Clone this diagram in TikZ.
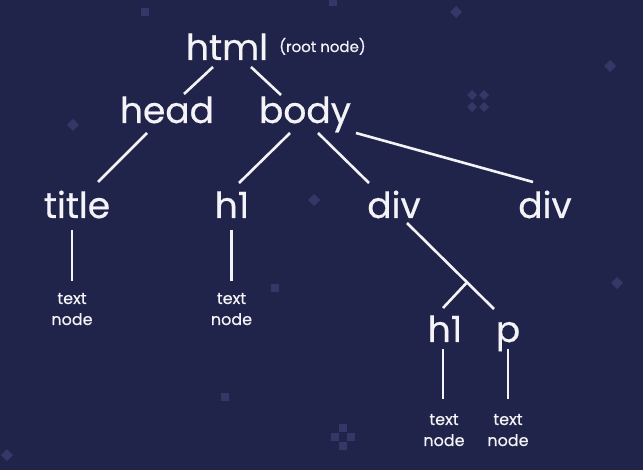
\documentclass[tikz,border=0pt]{standalone}
\usepackage{fontspec}
\setmainfont{Poppins}[FakeBold=0.5]
\definecolor{bg}{RGB}{33,36,74}
\definecolor{fg}{RGB}{244,244,248}
\definecolor{decocol}{RGB}{52,56,102}
\begin{document}
\begin{tikzpicture}[x=1pt,y=-1pt,
  tag/.style={text=fg, font=\fontsize{36}{40}\selectfont, inner sep=0pt, anchor=base},
  leaf/.style={text=fg, font=\fontsize{16}{21}\selectfont, inner sep=0pt, align=center, anchor=base},
  note/.style={text=fg, font=\fontsize{15}{18}\selectfont, inner sep=0pt, anchor=base west},
  edge/.style={draw=fg, line width=2.6pt},
]
\fill[bg] (0,0) rectangle (643,470);
\useasboundingbox (0,0) rectangle (643,470);

% decorations
\fill[decocol] (141,8) rectangle (149,16);
\fill[decocol] (329,-2) rectangle (337,6);
\fill[decocol] (221,393) rectangle (229,401);
\fill[decocol] (271,284) rectangle (279,292);
\foreach \x/\y in {456/12, 610/66, 73/125, 314/200, 617/283, 7/455}
  \fill[decocol, shift={(\x,\y)}] (0,-6) -- (6,0) -- (0,6) -- (-6,0) -- cycle;
\foreach \x/\y in {472/95, 484/95, 472/107, 484/107}
  \fill[decocol, shift={(\x,\y)}] (0,-5) -- (5,0) -- (0,5) -- (-5,0) -- cycle;
\foreach \x/\y in {343/428, 335/437, 351/437, 343/446}
  \fill[decocol] (\x-4,\y-4) rectangle (\x+4,\y+4);

% nodes
\node[tag] (html) at (227,60) {html};
\node[note] (root) at (279,52) {(root node)};
\node[tag] (head) at (167,123) {head};
\node[tag] (body) at (305,123) {body};
\node[tag] (title) at (77,218) {title};
\node[tag] (h1a) at (232,218) {h1};
\node[tag] (div1) at (394,218) {div};
\node[tag] (div2) at (545,218) {div};
\node[tag] (h1b) at (445,342) {h1};
\node[tag] (p) at (508,342) {p};
\node[leaf] (t1) at (72,325) {text\\node};
\node[leaf] (t2) at (231.5,325) {text\\node};
\node[leaf] (t3) at (444,446) {text\\node};
\node[leaf] (t4) at (508,446) {text\\node};

% edges
\draw[edge] ([shift={(-14,7)}]html.base) -- ([shift={(17,-29)}]head.base);
\draw[edge] ([shift={(24,7)}]html.base) -- ([shift={(-24,-28)}]body.base);
\draw[edge] ([shift={(-20,10)}]head.base) -- ([shift={(21,-36)}]title.base);
\draw[edge] ([shift={(-15,10)}]body.base) -- ([shift={(7,-35)}]h1a.base);
\draw[edge] ([shift={(13,10)}]body.base) -- ([shift={(-25,-35)}]div1.base);
\draw[edge] ([shift={(51,10)}]body.base) -- ([shift={(-12,-36)}]div2.base);
\draw[edge] ([shift={(-5,12)}]title.base) -- ([shift={(0,-44)}]t1.base);
\draw[edge] ([shift={(-0.5,12)}]h1a.base) -- ([shift={(0,-44)}]t2.base);
\draw[edge] ([shift={(13,5)}]div1.base) -- coordinate[pos=0.69] (jn) ([shift={(-14,-33)}]p.base);
\draw[edge] (jn) -- ([shift={(-2,-34)}]h1b.base);
\draw[edge] ([shift={(-2,7)}]h1b.base) -- ([shift={(-1,-47)}]t3.base);
\draw[edge] ([shift={(0,7)}]p.base) -- ([shift={(0,-47)}]t4.base);
\end{tikzpicture}
\end{document}
